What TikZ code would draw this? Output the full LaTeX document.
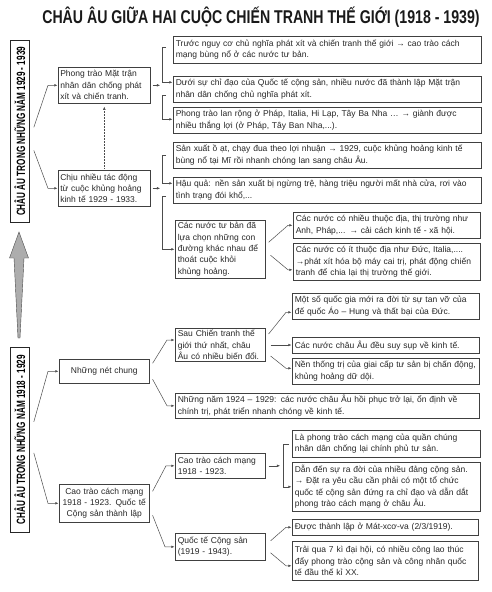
\documentclass[tikz,border=0pt]{standalone}
\usepackage{fontspec}
\setmainfont{Liberation Sans}
\newfontfamily\titlefont[FakeStretch=0.765]{Liberation Sans}
\newfontfamily\sidefont[FakeStretch=0.68]{Liberation Sans}
\usetikzlibrary{arrows.meta}

\begin{document}
\begin{tikzpicture}[x=1pt, y=1pt,
    box/.style={draw=black!75, line width=0.6pt, anchor=north west, align=left,
        inner xsep=2.5pt, inner ysep=2pt, text=black!85,
        font=\fontsize{8.5}{11.4}\selectfont},
    sidebox/.style={draw=black!85, line width=0.8pt, anchor=north west,
        minimum width=19pt, inner sep=0pt,
        font=\sidefont\bfseries\fontsize{12}{12}\selectfont},
    tip/.style={draw=black!70, line width=0.5pt,
        -{Latex[length=3.2pt,width=2.6pt]}, shorten >=0.5pt}]
    \useasboundingbox (0,0) rectangle (491,-592);

    % title
    \node[font=\titlefont\bfseries\fontsize{18.5}{18.5}\selectfont, text=black!90] (title) at (261,-17)
        {CHÂU ÂU GIỮA HAI CUỘC CHIẾN TRANH THẾ GIỚI (1918 - 1939)};

    % the two periods
    \node[sidebox, minimum height=182pt] (L1) at (10,-40)
        {\rotatebox{90}{CHÂU ÂU TRONG NHỮNG NĂM 1929 - 1939}};
    \node[sidebox, minimum height=185pt] (L2) at (10,-347)
        {\rotatebox{90}{CHÂU ÂU TRONG NHỮNG NĂM 1918 - 1929}};
    \draw[fill=black!32, draw=black!70, line width=0.4pt]
        (19,-232) -- (28.5,-258) -- (24,-258) -- (20,-338) -- (18,-338)
        -- (14,-258) -- (9.5,-258) -- cycle;

    % 1929 - 1939
    \node[box, inner xsep=2pt, text width=88pt, minimum height=36pt] (PT) at (58,-67)
        {Phong trào Mặt trận\\nhân dân chống phát\\xít và chiến tranh.};
    \node[box, inner xsep=2pt, text width=88pt, minimum height=36pt] (CN) at (58,-170)
        {Chịu nhiều tác động\\từ cuộc khủng hoảng\\kinh tế 1929 - 1933.};
    \node[box, text width=303pt, minimum height=27pt] (A1) at (173,-36)
        {Trước nguy cơ chủ nghĩa phát xít và chiến tranh thế giới → cao trào cách\\mạng bùng nổ ở các nước tư bản.};
    \node[box, text width=303pt, minimum height=26pt] (A2) at (173,-76)
        {Dưới sự chỉ đạo của Quốc tế cộng sản, nhiều nước đã thành lập Mặt trận\\nhân dân chống chủ nghĩa phát xít.};
    \node[box, text width=303pt, minimum height=26pt] (A3) at (173,-107)
        {Phong trào lan rộng ở Pháp, Italia, Hi Lạp, Tây Ba Nha … → giành được\\nhiều thắng lợi (ở Pháp, Tây Ban Nha,...).};
    \node[box, text width=303pt, minimum height=26pt] (B1) at (173,-142)
        {Sản xuất ồ ạt, chạy đua theo lợi nhuận → 1929, cuộc khủng hoảng kinh tế\\bùng nổ tại Mĩ rồi nhanh chóng lan sang châu Âu.};
    \node[box, text width=303pt, minimum height=26pt] (B2) at (173,-177)
        {Hậu quả: nền sản xuất bị ngừng trệ, hàng triệu người mất nhà cửa, rơi vào\\tình trạng đói khổ,...};
    \node[box, text width=85pt, minimum height=58pt] (B3) at (175,-220)
        {Các nước tư bản đã\\lựa chọn những con\\đường khác nhau để\\thoát cuộc khỏi\\khủng hoảng.};
    \node[box, text width=182pt, minimum height=26pt] (C1) at (293,-212)
        {Các nước có nhiều thuộc địa, thị trường như\\Anh, Pháp,... → cải cách kinh tế - xã hội.};
    \node[box, text width=182pt, minimum height=37pt] (C2) at (293,-243)
        {Các nước có ít thuộc địa như Đức, Italia,....\\→phát xít hóa bộ máy cai trị, phát động chiến\\tranh để chia lại thị trường thế giới.};

    % 1918 - 1929
    \node[box, align=center, inner xsep=2pt, text width=86pt, minimum height=24pt] (NC) at (59,-359) {Những nét chung};
    \node[box, align=center, inner xsep=2pt, text width=86pt, minimum height=38pt] (CT) at (59,-484)
        {Cao trào cách mạng\\1918 - 1923. Quốc tế\\Cộng sản thành lập};
    \node[box, text width=85pt, minimum height=33pt] (D) at (175,-328)
        {Sau Chiến tranh thế\\giới thứ nhất, châu\\Âu có nhiều biến đổi.};
    \node[box, text width=182pt, minimum height=26pt] (D1) at (292,-293)
        {Một số quốc gia mới ra đời từ sự tan vỡ của\\đế quốc Áo – Hung và thất bại của Đức.};
    \node[box, text width=182pt, minimum height=16pt] (D2) at (292,-337)
        {Các nước châu Âu đều suy sụp về kinh tế.};
    \node[box, text width=182pt, minimum height=26pt] (D3) at (292,-358)
        {Nền thống trị của giai cấp tư sản bị chấn động,\\khủng hoảng dữ dội.};
    \node[box, text width=299pt, minimum height=25pt] (E) at (175,-393)
        {Những năm 1924 – 1929: các nước châu Âu hồi phục trở lại, ổn định về\\chính trị, phát triển nhanh chóng về kinh tế.};
    \node[box, text width=85pt, minimum height=25pt] (F) at (175,-453)
        {Cao trào cách mạng\\1918 - 1923.};
    \node[box, text width=183pt, minimum height=27pt] (F1) at (292,-430)
        {Là phong trào cách mạng của quần chúng\\nhân dân chống lại chính phủ tư sản.};
    \node[box, text width=183pt, minimum height=49pt] (F2) at (292,-462)
        {Dẫn đến sự ra đời của nhiều đảng cộng sản.\\→ Đặt ra yêu cầu cần phải có một tổ chức\\quốc tế cộng sản đứng ra chỉ đạo và dẫn dắt\\phong trào cách mạng ở châu Âu.};
    \node[box, text width=85pt, minimum height=27pt] (G) at (175,-533)
        {Quốc tế Cộng sản\\(1919 - 1943).};
    \node[box, text width=181pt, minimum height=16pt] (G1) at (292,-519)
        {Được thành lập ở Mát-xcơ-va (2/3/1919).};
    \node[box, text width=181pt, minimum height=39pt] (G2) at (292,-541)
        {Trải qua 7 kì đại hội, có nhiều công lao thúc\\đẩy phong trào cộng sản và công nhân quốc\\tế đầu thế kỉ XX.};

    % connectors, top half
    \draw[tip] ([xshift=4pt,yshift=4pt]L1.east) -- ([xshift=-10pt]PT.west) -- (PT.west);
    \draw[tip] ([xshift=4pt,yshift=-19pt]L1.east) -- ([xshift=-10pt]CN.west) -- (CN.west);
    \draw[tip, densely dotted, shorten <=2pt, shorten >=3pt] (CN.north) -- (PT.south);
    \draw[tip] ([xshift=2pt]PT.east) -- ([xshift=10pt]PT.east);
    \draw[tip] ([xshift=-7pt,yshift=3pt]A1.west) -- ++(-4,0) |- ([yshift=7pt]A2.west);
    \draw[tip] ([xshift=-7pt,yshift=-6pt]A2.west) -- ++(-4,0) |- ([yshift=1pt]A3.west);
    \draw[tip] ([xshift=2pt]CN.east) -- ([xshift=10pt]CN.east);
    \draw[tip] ([xshift=-7pt]B1.west) -- ++(-4,0) |- ([yshift=7pt]B2.west);
    \draw[tip] ([xshift=-7pt,yshift=-6pt]B2.west) -- ++(-4,0) |- (B3.west);
    \draw[tip] ([xshift=3pt,yshift=7pt]B3.east) -- ([xshift=-5pt]C1.west) -- (C1.west);
    \draw[tip] ([xshift=5pt,yshift=-6pt]B3.east) -- ([xshift=-5pt,yshift=-8pt]C2.west) -- ([yshift=-8pt]C2.west);

    % connectors, bottom half
    \draw[tip] ([xshift=4pt,yshift=18pt]L2.east) -- ([xshift=-11pt]NC.west) -- (NC.west);
    \draw[tip] ([xshift=4pt,yshift=-13pt]L2.east) -- ([xshift=-11pt]CT.west) -- (CT.west);
    \draw[tip] ([xshift=3pt,yshift=8pt]NC.east) -- ([xshift=-8pt,yshift=5pt]D.west) -- ([yshift=5pt]D.west);
    \draw[tip] ([xshift=3pt,yshift=-8pt]NC.east) -- ([xshift=-8pt]E.west) -- (E.west);
    \draw[tip] ([xshift=3pt,yshift=11pt]D.east) -- ([xshift=-6pt,yshift=-6pt]D1.west) -- ([yshift=-6pt]D1.west);
    \draw[tip] ([xshift=5pt]D.east) -- (D.east -| D2.west);
    \draw[tip] ([xshift=5pt,yshift=-11pt]D.east) -- ([xshift=-6pt,yshift=3pt]D3.west) -- ([yshift=3pt]D3.west);
    \draw[tip] ([xshift=3pt,yshift=12pt]CT.east) -- ([xshift=-9pt]F.west) -- (F.west);
    \draw[tip] ([xshift=3pt,yshift=-12pt]CT.east) -- ([xshift=-10pt]G.west) -- (G.west);
    \draw[tip] ([xshift=3pt]F.east) -- ([xshift=15pt]F.east);
    \draw[tip] ([xshift=-3pt]F1.west) -- ++(-6,0) |- (F2.west);
    \draw[tip] ([xshift=5pt,yshift=6pt]G.east) -- ([xshift=-6pt]G1.west) -- (G1.west);
    \draw[tip] ([xshift=5pt,yshift=-6pt]G.east) -- ([xshift=-6pt,yshift=-5pt]G2.west) -- ([yshift=-5pt]G2.west);
\end{tikzpicture}
\end{document}
